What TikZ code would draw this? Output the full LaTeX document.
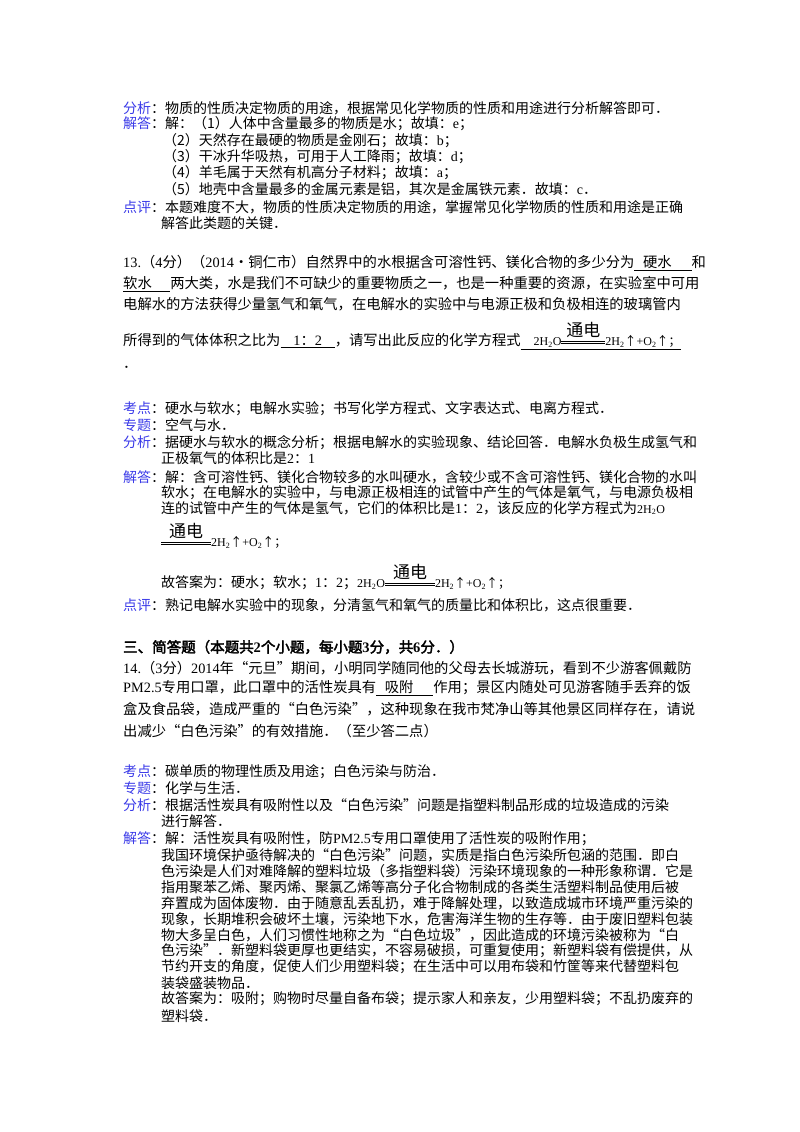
\documentclass[tikz,border=0pt]{standalone}
\usepackage{fontspec}
\setmainfont{Noto Sans CJK SC}
\newfontfamily\lat{Liberation Serif}
\newfontfamily\cjkb{Noto Sans CJK SC}[FakeBold=2.5]
\definecolor{lblue}{HTML}{3A3AE8}
\newcommand\tdsign[1]{\makebox[#1][l]{\rule[0.2em]{#1}{0.5pt}}\hspace{-#1}\makebox[#1][l]{\rule[0.36em]{#1}{0.5pt}}\hspace{-#1}\makebox[#1]{\raisebox{0.75em}{\fontsize{17}{17}\selectfont 通电}}}
\newcommand\hhO{{\lat 2H\textsubscript{2}O}}
\newcommand\chprod{{\lat 2H\textsubscript{2}}↑{\lat +O\textsubscript{2}}↑；}
\newcommand\lb[1]{\textcolor{lblue}{#1}：}
\begin{document}
\begin{tikzpicture}[x=1pt,y=-1pt,
  a/.style={anchor=west,inner sep=0pt,font=\fontsize{14}{14}\selectfont},
  q/.style={anchor=west,inner sep=0pt,font=\fontsize{14.3}{14.3}\selectfont}]
\useasboundingbox (0,0) rectangle (800,1132);
% question 12 analysis
\node[a] (l1) at (123,108) {\lb{分析}物质的性质决定物质的用途，根据常见化学物质的性质和用途进行分析解答即可．};
\node[a] (l2) at (123,124) {\lb{解答}解：（1）人体中含量最多的物质是水；故填：{\lat e}；};
\node[a] (l3) at (163,141) {（2）天然存在最硬的物质是金刚石；故填：{\lat b}；};
\node[a] (l4) at (163,157) {（3）干冰升华吸热，可用于人工降雨；故填：{\lat d}；};
\node[a] (l5) at (163,173) {（4）羊毛属于天然有机高分子材料；故填：{\lat a}；};
\node[a] (l6) at (163,189) {（5）地壳中含量最多的金属元素是铝，其次是金属铁元素．故填：{\lat c}．};
\node[a] (l7) at (123,207) {\lb{点评}本题难度不大，物质的性质决定物质的用途，掌握常见化学物质的性质和用途是正确};
\node[a] (l8) at (161,223) {解答此类题的关键．};
% question 13
\node[q] (q1) at (123,263) {{\lat 13.}（{\lat 4}分）（{\lat 2014}•铜仁市）自然界中的水根据含可溶性钙、镁化合物的多少分为\underline{\hspace{0.6em}硬水\hspace{1.4em}}和};
\node[q] (q2) at (123,284) {\underline{软水\hspace{1.3em}}两大类，水是我们不可缺少的重要物质之一，也是一种重要的资源，在实验室中可用};
\node[q] (q3) at (123,304) {电解水的方法获得少量氢气和氧气，在电解水的实验中与电源正极和负极相连的玻璃管内};
\node[q] (q4) at (123,336) {所得到的气体体积之比为\underline{\hspace{0.9em}{\lat 1}：{\lat 2}\hspace{0.9em}}，请写出此反应的化学方程式\underline{\hspace{0.9em}{\fontsize{12}{12}\selectfont\hhO\tdsign{44pt}\chprod}}};
\node[q] (q5) at (123,367) {．};
% analysis 13
\node[a] (m1) at (123,409) {\lb{考点}硬水与软水；电解水实验；书写化学方程式、文字表达式、电离方程式．};
\node[a] (m2) at (123,425) {\lb{专题}空气与水．};
\node[a] (m3) at (123,443) {\lb{分析}据硬水与软水的概念分析；根据电解水的实验现象、结论回答．电解水负极生成氢气和};
\node[a] (m4) at (161,458) {正极氧气的体积比是{\lat 2}：{\lat 1}};
\node[a] (m5) at (123,477) {\lb{解答}解：含可溶性钙、镁化合物较多的水叫硬水，含较少或不含可溶性钙、镁化合物的水叫};
\node[a] (m6) at (161,493) {软水；在电解水的实验中，与电源正极相连的试管中产生的气体是氧气，与电源负极相};
\node[a] (m7) at (161,508) {连的试管中产生的气体是氢气，它们的体积比是{\lat 1}：{\lat 2}，该反应的化学方程式为{\fontsize{12}{12}\selectfont\hhO}};
\node[a] (m8) at (161,536) {{\fontsize{12}{12}\selectfont\tdsign{50pt}\chprod}};
\node[a] (m9) at (161,577) {故答案为：硬水；软水；{\lat 1}：{\lat 2}；{\fontsize{12}{12}\selectfont\hhO\tdsign{50pt}\chprod}};
\node[a] (m10) at (123,605) {\lb{点评}熟记电解水实验中的现象，分清氢气和氧气的质量比和体积比，这点很重要．};
% section three
\node[a,font=\fontsize{14.5}{14.5}\selectfont\cjkb] (h) at (123,647) {三、简答题（本题共{\lat\bfseries 2}个小题，每小题{\lat\bfseries 3}分，共{\lat\bfseries 6}分．）};
\node[q] (r1) at (123,668) {{\lat 14.}（{\lat 3}分）{\lat 2014}年“元旦”期间，小明同学随同他的父母去长城游玩，看到不少游客佩戴防};
\node[q] (r2) at (123,688) {{\lat PM2.5}专用口罩，此口罩中的活性炭具有\underline{\hspace{0.6em}吸附\hspace{1.4em}}作用；景区内随处可见游客随手丢弃的饭};
\node[q] (r3) at (123,709) {盒及食品袋，造成严重的“白色污染”，这种现象在我市梵净山等其他景区同样存在，请说};
\node[q] (r4) at (123,731) {出减少“白色污染”的有效措施．（至少答二点）};
% analysis 14
\node[a] (s1) at (123,772) {\lb{考点}碳单质的物理性质及用途；白色污染与防治．};
\node[a] (s2) at (123,788) {\lb{专题}化学与生活．};
\node[a] (s3) at (123,805) {\lb{分析}根据活性炭具有吸附性以及“白色污染”问题是指塑料制品形成的垃圾造成的污染};
\node[a] (s4) at (161,821) {进行解答．};
\node[a] (s5) at (123,839) {\lb{解答}解：活性炭具有吸附性，防{\lat PM2.5}专用口罩使用了活性炭的吸附作用；};
\node[a] (s6) at (161,855) {我国环境保护亟待解决的“白色污染”问题，实质是指白色污染所包涵的范围．即白};
\node[a] (s7) at (161,871) {色污染是人们对难降解的塑料垃圾（多指塑料袋）污染环境现象的一种形象称谓．它是};
\node[a] (s8) at (161,887) {指用聚苯乙烯、聚丙烯、聚氯乙烯等高分子化合物制成的各类生活塑料制品使用后被};
\node[a] (s9) at (161,903) {弃置成为固体废物．由于随意乱丢乱扔，难于降解处理，以致造成城市环境严重污染的};
\node[a] (s10) at (161,919) {现象，长期堆积会破坏土壤，污染地下水，危害海洋生物的生存等．由于废旧塑料包装};
\node[a] (s11) at (161,935) {物大多呈白色，人们习惯性地称之为“白色垃圾”，因此造成的环境污染被称为“白};
\node[a] (s12) at (161,951) {色污染”．新塑料袋更厚也更结实，不容易破损，可重复使用；新塑料袋有偿提供，从};
\node[a] (s13) at (161,967) {节约开支的角度，促使人们少用塑料袋；在生活中可以用布袋和竹筐等来代替塑料包};
\node[a] (s14) at (161,983) {装袋盛装物品．};
\node[a] (s15) at (161,999) {故答案为：吸附；购物时尽量自备布袋；提示家人和亲友，少用塑料袋；不乱扔废弃的};
\node[a] (s16) at (161,1016) {塑料袋．};
\end{tikzpicture}
\end{document}
